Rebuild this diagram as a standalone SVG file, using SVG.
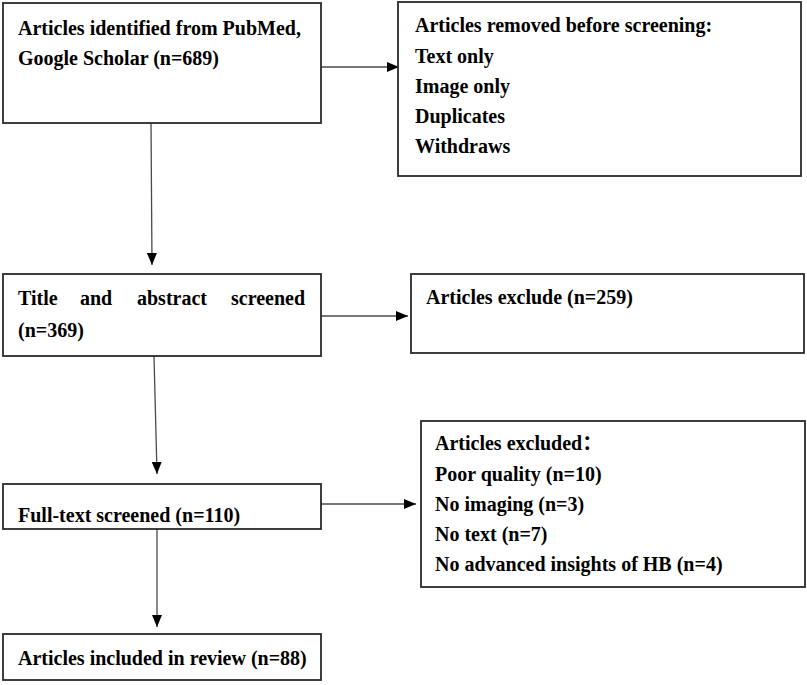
<svg xmlns="http://www.w3.org/2000/svg" width="807" height="685" viewBox="0 0 807 685">
<style>
.box{fill:#fff;stroke:#2a2a2a;stroke-width:1.8}
.t{font-family:"Liberation Serif","Times New Roman","Noto Sans CJK SC",serif;font-weight:bold;font-size:20px;fill:#000}
.c{stroke:#4a4a4a;stroke-width:1.3;fill:none;marker-end:url(#ah)}
</style>
<defs>
<marker id="ah" markerWidth="12" markerHeight="10" refX="12" refY="5" orient="auto" markerUnits="userSpaceOnUse">
<path d="M0,0 L12,5 L0,10 Z" fill="#000"/>
</marker>
</defs>
<rect width="807" height="685" fill="#fff"/>
<g id="connectors">
<line class="c" x1="321" y1="67" x2="399" y2="67"/>
<line class="c" x1="151" y1="123" x2="152" y2="265"/>
<line class="c" x1="321" y1="316" x2="408" y2="316"/>
<line class="c" x1="154" y1="356" x2="157" y2="474"/>
<line class="c" x1="321" y1="504" x2="416" y2="504"/>
<line class="c" x1="157" y1="529" x2="157" y2="627"/>
</g>
<g id="identified">
<rect class="box" x="3" y="3" width="318" height="120"/>
<text class="t" x="18" y="35">Articles identified from PubMed,</text>
<text class="t" x="18" y="65">Google Scholar (n=689)</text>
</g>
<g id="removed">
<rect class="box" x="398" y="2" width="403" height="174"/>
<text class="t" x="415" y="32">Articles removed before screening:</text>
<text class="t" x="415" y="63">Text only</text>
<text class="t" x="415" y="93">Image only</text>
<text class="t" x="415" y="123">Duplicates</text>
<text class="t" x="415" y="153">Withdraws</text>
</g>
<g id="title-abstract">
<rect class="box" x="3" y="274" width="318" height="82"/>
<text class="t" y="305"><tspan x="18">Title</tspan><tspan x="80">and</tspan><tspan x="137">abstract</tspan><tspan x="231">screened</tspan></text>
<text class="t" x="18" y="337">(n=369)</text>
</g>
<g id="exclude">
<rect class="box" x="411" y="274" width="393" height="79"/>
<text class="t" x="426" y="304">Articles exclude (n=259)</text>
</g>
<g id="fulltext">
<rect class="box" x="3" y="484" width="318" height="45"/>
<text class="t" x="18" y="522">Full-text screened (n=110)</text>
</g>
<g id="excluded">
<rect class="box" x="421" y="421" width="384" height="166"/>
<text class="t" x="435" y="450">Articles excluded：</text>
<text class="t" x="435" y="481">Poor quality (n=10)</text>
<text class="t" x="435" y="511">No imaging (n=3)</text>
<text class="t" x="435" y="541">No text (n=7)</text>
<text class="t" x="435" y="571">No advanced insights of HB (n=4)</text>
</g>
<g id="included">
<rect class="box" x="3" y="634" width="318" height="46"/>
<text class="t" x="18" y="665">Articles included in review (n=88)</text>
</g>
</svg>
